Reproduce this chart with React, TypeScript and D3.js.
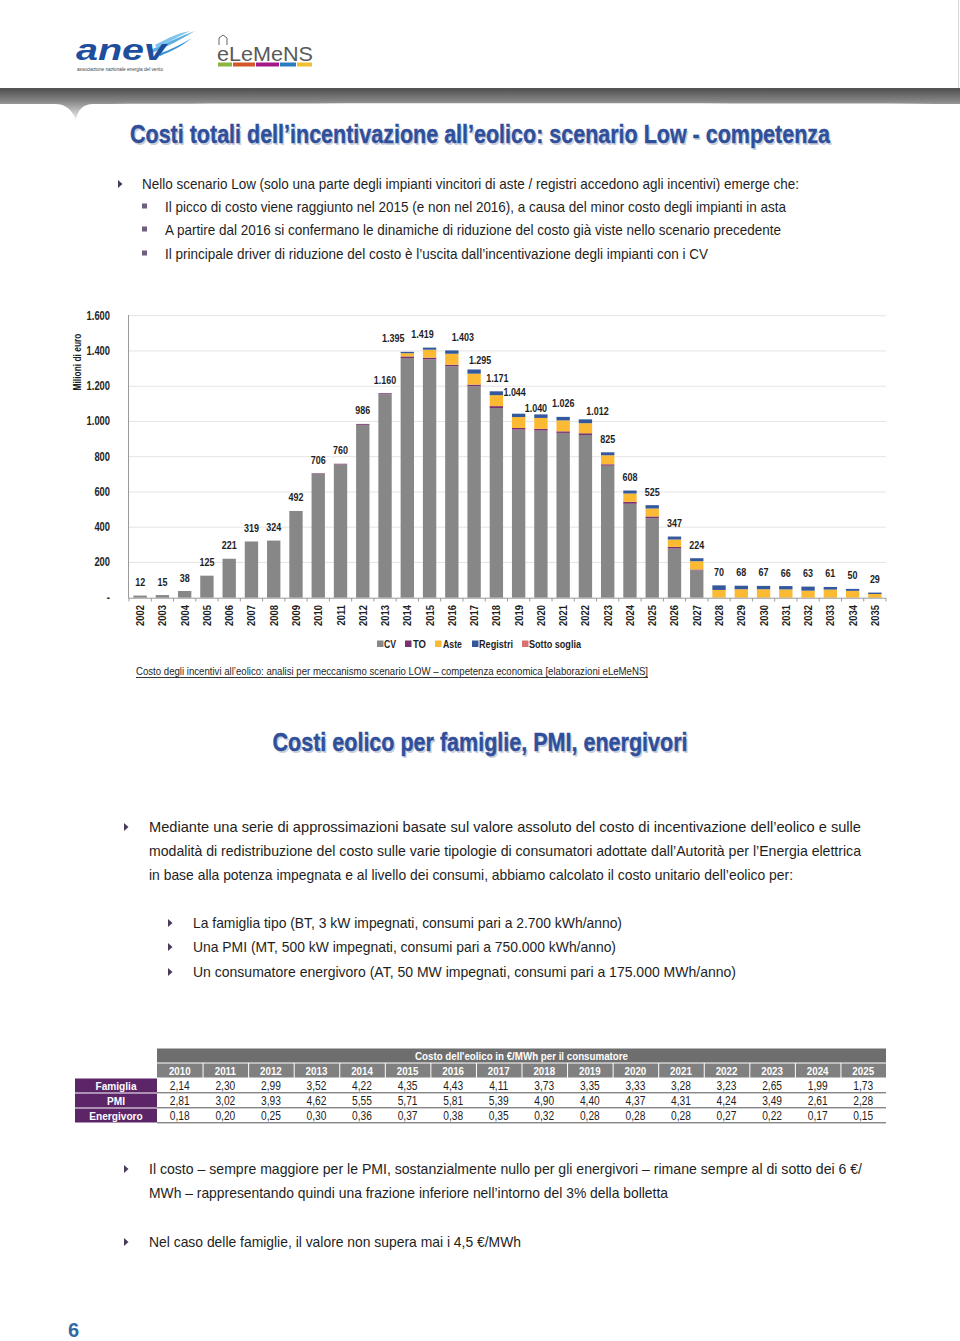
import React from 'react';
import * as d3 from 'd3';

const years = ['2002','2003','2004','2005','2006','2007','2008','2009','2010','2011','2012','2013','2014','2015','2016','2017','2018','2019','2020','2021','2022','2023','2024','2025','2026','2027','2028','2029','2030','2031','2032','2033','2034','2035'];
const cv = [12,15,38,125,221,319,324,492,703,756,981,1154,1360,1352,1313,1200,1076,954,948,935,923,749,533,451,279,156,0,0,0,0,0,0,0,0];
const to = [0,0,0,0,0,0,0,0,3,4,5,6,9,10,9,9,11,9,10,9,10,8,11,10,9,4,0,0,0,0,0,0,0,0];
const aste = [0,0,0,0,0,0,0,0,0,0,0,0,18,45,62,62,62,62,62,62,57,51,47,45,42,47,44,48,48,47,40,46,39,21];
const registri = [0,0,0,0,0,0,0,0,0,0,0,0,8,12,19,24,22,19,20,20,22,17,17,19,17,17,26,20,19,19,23,15,11,8];
const sottoSoglia = [0,0,0,0,0,0,0,0,0,0,0,0,0,0,0,0,0,0,0,0,0,0,0,0,0,0,0,0,0,0,0,0,0,0];
const totals = [12,15,38,125,221,319,324,492,706,760,986,1160,1395,1419,1403,1295,1171,1044,1040,1026,1012,825,608,525,347,224,70,68,67,66,63,61,50,29];
const yTicks = [0,200,400,600,800,1000,1200,1400,1600];
const seriesKeys = ['CV','TO','Aste','Registri','Sotto soglia'];
const seriesColors = ['#878787','#7A3170','#FBB934','#34589C','#D9726E'];
// manual label placement used in the original chart (dx, dy in px)
const labelNudges: Record<string, [number, number]> = {
  '2014': [-14, 0], '2015': [-7, 0], '2016': [11, 0], '2017': [6, 4], '2018': [1, 0],
  '2019': [-4, -8], '2020': [-5, 7], '2021': [0, 0], '2022': [12, 5],
};

const tableYears = ['2010','2011','2012','2013','2014','2015','2016','2017','2018','2019','2020','2021','2022','2023','2024','2025'];
const famiglia = ['2,14','2,30','2,99','3,52','4,22','4,35','4,43','4,11','3,73','3,35','3,33','3,28','3,23','2,65','1,99','1,73'];
const pmi = ['2,81','3,02','3,93','4,62','5,55','5,71','5,81','5,39','4,90','4,40','4,37','4,31','4,24','3,49','2,61','2,28'];
const energivoro = ['0,18','0,20','0,25','0,30','0,36','0,37','0,38','0,35','0,32','0,28','0,28','0,28','0,27','0,22','0,17','0,15'];
const rowLabels = ['Famiglia','PMI','Energivoro'];

const NARROW = "'Liberation Sans Narrow','Arial Narrow','Nimbus Sans Narrow','Liberation Sans',sans-serif";
const TXT = '#1e1e1e';
const BLUE = '#2F4F9B';

const fmt = (v: number) => (v === 0 ? '-' : d3.format(',')(v).replace(/,/g, '.'));

function Line({ x, y, w, children, size = 15, weight = 'normal', fill = TXT, anchor = 'start', deco }: any) {
  return (
    <text x={x} y={y} fontFamily={NARROW} fontSize={size} fontWeight={weight} fill={fill}
      textAnchor={anchor} textLength={w} lengthAdjust="spacingAndGlyphs" textDecoration={deco}>{children}</text>
  );
}

// condensed short text: horizontal squeeze around the anchor point
function NText({ x, y, sx = 0.8, rot = 0, children, size = 11, weight = 'bold', fill = TXT, anchor = 'middle' }: any) {
  return (
    <g transform={`translate(${x},${y}) rotate(${rot}) scale(${sx},1)`}>
      <text x={0} y={0} fontFamily={NARROW} fontSize={size} fontWeight={weight} fill={fill} textAnchor={anchor}>{children}</text>
    </g>
  );
}

const Tri = ({ x, y }: any) => <path d={`M${x},${y - 4}L${x + 4.5},${y}L${x},${y + 4}Z`} fill="#4B3B5B" />;
const Sq = ({ x, y }: any) => <rect x={x} y={y - 2.5} width={5} height={5} fill="#6E5F80" />;

function Title({ x, y, w, children }: any) {
  return (
    <g>
      <text x={x + 1.5} y={y + 1.5} fontFamily={NARROW} fontSize={25} fontWeight="bold" fill="#c9cfdc"
        textAnchor="middle" textLength={w} lengthAdjust="spacingAndGlyphs">{children}</text>
      <text x={x} y={y} fontFamily={NARROW} fontSize={25} fontWeight="bold" fill={BLUE} stroke={BLUE} strokeWidth={0.4}
        textAnchor="middle" textLength={w} lengthAdjust="spacingAndGlyphs">{children}</text>
    </g>
  );
}

export default function App() {
  const x = d3.scaleBand<string>().domain(years).range([129, 886]).paddingInner(0.4).paddingOuter(0.2);
  const y = d3.scaleLinear().domain([0, 1600]).range([597.7, 315.7]);
  const rows = years.map((yr, i) => ({ year: yr, CV: cv[i], TO: to[i], Aste: aste[i], Registri: registri[i], 'Sotto soglia': sottoSoglia[i] }));
  const stacked = d3.stack<any>().keys(seriesKeys)(rows as any);
  const gap = x.step() - x.bandwidth();
  const cx = (yr: string) => (x(yr) as number) + x.bandwidth() / 2;
  const tickXs = years.map((yr) => (x(yr) as number) - gap / 2).concat([(x(years[years.length - 1]) as number) + x.bandwidth() + gap / 2]);

  const tX0 = 157, tX1 = 886;
  const colW = (tX1 - tX0) / tableYears.length;
  const tableRows = [famiglia, pmi, energivoro];

  const legendItems = [
    { k: 'CV', sx: 377, tx: 384, w: 12 },
    { k: 'TO', sx: 405, tx: 413, w: 13 },
    { k: 'Aste', sx: 435, tx: 443, w: 19 },
    { k: 'Registri', sx: 472, tx: 479, w: 34 },
    { k: 'Sotto soglia', sx: 522, tx: 529, w: 52 },
  ];

  return (
    <svg width={960} height={1341} style={{ position: 'absolute', left: 0, top: 0, background: '#fff' }}>
      <defs>
        <linearGradient id="band" x1="0" y1="0" x2="0" y2="1">
          <stop offset="0" stopColor="#4e4e4e" />
          <stop offset="0.4" stopColor="#848484" />
          <stop offset="1" stopColor="#f4f4f4" />
        </linearGradient>
      </defs>
      <rect x={0} y={0} width={960} height={1341} fill="#fff" />
      <line x1={958.5} y1={0} x2={958.5} y2={90} stroke="#d8d8d8" />

      {/* header logos */}
      <g>
        <path d="M150,50 C165,44 180,36 195,31 C182,39 168,46 152,53Z" fill="#5BAEE2" />
        <path d="M155,45 C168,38 178,33 190,31 C178,37 168,42 157,48Z" fill="#7EC3EC" />
        <path d="M158,54 C170,50 182,44 192,38 C182,46 172,51 160,56Z" fill="#3F94D3" />
        <text x={76} y={60} fontFamily="'Liberation Sans',sans-serif" fontStyle="italic" fontWeight="bold" fontSize={30} fill="#1E4E9E" textLength={90} lengthAdjust="spacingAndGlyphs">anev</text>
        <text x={77} y={70.5} fontFamily="'Liberation Sans',sans-serif" fontSize={4.5} fill="#444" textLength={86} lengthAdjust="spacingAndGlyphs">associazione nazionale energia del vento</text>
        <path d="M219,45 L219,38 L223,35 L227,38 L227,45" fill="none" stroke="#666" strokeWidth={1} />
        <text x={217} y={61} fontFamily="'Liberation Sans',sans-serif" fontSize={21} fill="#5a5a5a" textLength={96} lengthAdjust="spacingAndGlyphs">eLeMeNS</text>
        <rect x={218} y={62.5} width={14} height={4} fill="#8CB43F" />
        <rect x={233} y={62.5} width={22} height={4} fill="#D4572A" />
        <rect x={256} y={62.5} width={23} height={4} fill="#A3198B" />
        <rect x={280} y={62.5} width={16} height={4} fill="#2B7BC0" />
        <rect x={297} y={62.5} width={15} height={4} fill="#F0C030" />
      </g>

      {/* gray band */}
      <path d="M0,88 L960,88 L960,104 C700,103 300,103 92,104 C82,105 78,110 76,120 C72,110 66,104 55,104 L0,104 Z" fill="url(#band)" />
      <line x1={0} y1={88.5} x2={960} y2={88.5} stroke="#555" strokeWidth={1} />

      <Title x={480} y={143} w={700}>Costi totali dell’incentivazione all’eolico: scenario Low - competenza</Title>

      <Tri x={118} y={184} />
      <Line x={142} y={189} w={657}>Nello scenario Low (solo una parte degli impianti vincitori di aste / registri accedono agli incentivi) emerge che:</Line>
      <Sq x={142} y={206} />
      <Line x={165} y={212} w={621}>Il picco di costo viene raggiunto nel 2015 (e non nel 2016), a causa del minor costo degli impianti in asta</Line>
      <Sq x={142} y={229} />
      <Line x={165} y={235} w={616}>A partire dal 2016 si confermano le dinamiche di riduzione del costo già viste nello scenario precedente</Line>
      <Sq x={142} y={253} />
      <Line x={165} y={259} w={543}>Il principale driver di riduzione del costo è l’uscita dall’incentivazione degli impianti con i CV</Line>

      {/* chart */}
      <g>
        {yTicks.map((t) => (
          <g key={t}>
            {t > 0 && <line x1={129} x2={886} y1={y(t)} y2={y(t)} stroke="#e4e4e4" strokeWidth={1} />}
            <NText x={110} y={y(t) + 4} anchor="end" size={12} sx={0.78}>{fmt(t)}</NText>
          </g>
        ))}
        <text transform={`translate(81,362) rotate(-90)`} textAnchor="middle" fontFamily={NARROW} fontWeight="bold" fontSize={10.5} fill={TXT} textLength={57} lengthAdjust="spacingAndGlyphs">Milioni di euro</text>
        {stacked.map((s, si) => (
          <g key={s.key} fill={seriesColors[si]}>
            {s.map((d: any, i: number) => {
              const h = y(d[0]) - y(d[1]);
              if (h <= 0) return null;
              return <rect key={i} x={x(years[i])} y={y(d[1])} width={x.bandwidth()} height={h} />;
            })}
          </g>
        ))}
        <line x1={128.5} x2={128.5} y1={315} y2={598} stroke="#9a9a9a" />
        <line x1={128.5} x2={886} y1={598.2} y2={598.2} stroke="#9a9a9a" />
        {tickXs.map((tx, i) => (
          <line key={i} x1={tx} x2={tx} y1={598} y2={601.5} stroke="#9a9a9a" />
        ))}
        {totals.map((v, i) => {
          const n = labelNudges[years[i]] || [0, 0];
          return <NText key={i} x={cx(years[i]) + n[0]} y={y(v) - 9.5 + n[1]} size={11.5} sx={0.78}>{fmt(v)}</NText>;
        })}
        {years.map((yr) => (
          <NText key={yr} x={cx(yr) + 4} y={605} rot={-90} anchor="end" size={11.5} sx={0.82}>{yr}</NText>
        ))}
        {legendItems.map((l) => (
          <g key={l.k}>
            <rect x={l.sx} y={640.5} width={6.5} height={6.5} fill={seriesColors[seriesKeys.indexOf(l.k)]} />
            <text x={l.tx} y={648} fontFamily={NARROW} fontWeight="bold" fontSize={11} fill={TXT} textLength={l.w} lengthAdjust="spacingAndGlyphs">{l.k}</text>
          </g>
        ))}
        <Line x={136} y={675} w={512} size={11.5}>Costo degli incentivi all’eolico: analisi per meccanismo scenario LOW – competenza economica [elaborazioni eLeMeNS]</Line>
        <line x1={136} x2={648} y1={677.5} y2={677.5} stroke={TXT} strokeWidth={0.9} />
      </g>

      <Title x={480} y={751} w={415}>Costi eolico per famiglie, PMI, energivori</Title>

      <Tri x={124} y={827} />
      <Line x={149} y={832} w={712}>Mediante una serie di approssimazioni basate sul valore assoluto del costo di incentivazione dell’eolico e sulle</Line>
      <Line x={149} y={856} w={712}>modalità di redistribuzione del costo sulle varie tipologie di consumatori adottate dall’Autorità per l’Energia elettrica</Line>
      <Line x={149} y={880} w={644}>in base alla potenza impegnata e al livello dei consumi, abbiamo calcolato il costo unitario dell’eolico per:</Line>

      <Tri x={168} y={923} />
      <Line x={193} y={928} w={429}>La famiglia tipo (BT, 3 kW impegnati, consumi pari a 2.700 kWh/anno)</Line>
      <Tri x={168} y={947} />
      <Line x={193} y={952} w={423}>Una PMI (MT, 500 kW impegnati, consumi pari a 750.000 kWh/anno)</Line>
      <Tri x={168} y={972} />
      <Line x={193} y={977} w={543}>Un consumatore energivoro (AT,  50 MW impegnati, consumi pari a 175.000 MWh/anno)</Line>

      {/* table */}
      <g>
        <rect x={tX0} y={1048.5} width={tX1 - tX0} height={14} fill="#6e6e6e" />
        <text x={(tX0 + tX1) / 2} y={1059.5} textAnchor="middle" fontFamily={NARROW} fontWeight="bold" fontSize={11.5} fill="#fff" textLength={213} lengthAdjust="spacingAndGlyphs">Costo dell'eolico in €/MWh per il consumatore</text>
        {tableYears.map((yr, i) => (
          <g key={yr}>
            <rect x={tX0 + i * colW + (i === 0 ? 0 : 1)} y={1063.5} width={colW - (i === 0 ? 0 : 1)} height={14} fill="#808080" />
            <NText x={tX0 + (i + 0.5) * colW} y={1074.5} size={11.5} sx={0.85} fill="#fff">{yr}</NText>
          </g>
        ))}
        {rowLabels.map((lab, r) => (
          <g key={lab}>
            <rect x={75} y={1078.5 + r * 15} width={82} height={14} fill="#5B2567" />
            <NText x={116} y={1089.5 + r * 15} size={11.5} sx={0.88} fill="#fff">{lab}</NText>
            {tableRows[r].map((v, i) => (
              <NText key={i} x={tX0 + (i + 0.5) * colW} y={1089.5 + r * 15} size={12} sx={0.85} weight="normal">{v}</NText>
            ))}
            <line x1={tX0} x2={tX1} y1={1092.8 + r * 15} y2={1092.8 + r * 15} stroke="#555" strokeWidth={1} />
          </g>
        ))}
      </g>

      <Tri x={124} y={1169} />
      <Line x={149} y={1174} w={713}>Il costo – sempre maggiore per le PMI, sostanzialmente nullo per gli energivori – rimane sempre al di sotto dei 6 €/</Line>
      <Line x={149} y={1198} w={519}>MWh – rappresentando quindi una frazione inferiore nell’intorno del 3% della bolletta</Line>
      <Tri x={124} y={1242} />
      <Line x={149} y={1247} w={372}>Nel caso delle famiglie, il valore non supera mai i 4,5 €/MWh</Line>

      <text x={68} y={1337} fontFamily={NARROW} fontWeight="bold" fontSize={20} fill="#2F69A8">6</text>
    </svg>
  );
}
